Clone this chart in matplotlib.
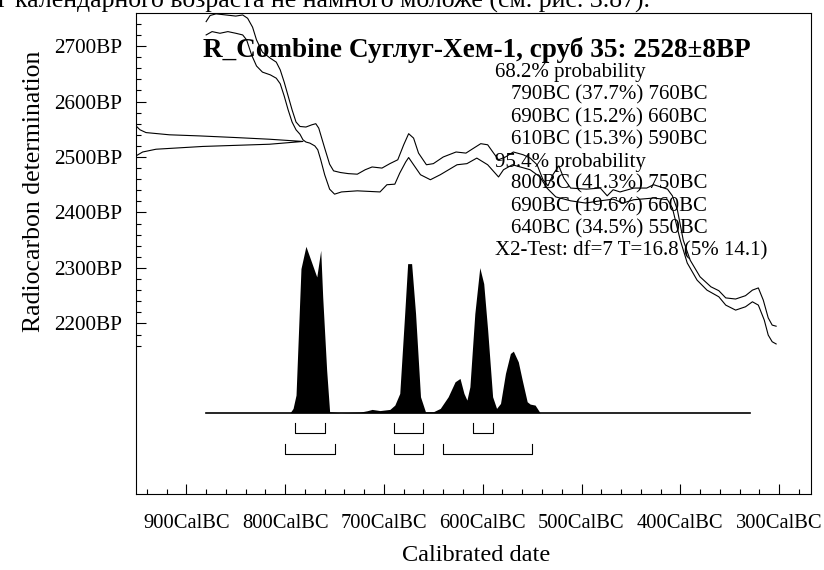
import matplotlib
matplotlib.use("Agg")
import matplotlib.pyplot as plt
from matplotlib.ticker import FixedLocator, FixedFormatter

plt.rcParams['font.family'] = ['Liberation Serif', 'DejaVu Serif']

# calibration curve envelope (cal BC, BP)
upper_bc = [880, 876, 870, 860, 850, 843, 838, 833, 829, 823, 815, 809, 805, 801, 797, 793,
            789, 785, 779, 773, 769, 766, 763, 760, 755, 751, 744, 736, 727, 719, 712, 702,
            694, 686, 680, 675, 670, 665, 657, 650, 640, 627, 617, 610, 602, 595, 589, 584,
            577, 569, 559, 552, 545, 539, 534, 529, 523, 518, 511, 495, 481, 474, 468, 461,
            447, 434, 427, 420, 413, 408, 403, 397, 390, 380, 369, 361, 354, 344, 334, 327,
            321, 316, 311, 307, 303]
upper_bp = [2744, 2755, 2758, 2756, 2754, 2756, 2750, 2734, 2711, 2689, 2678, 2671, 2657, 2635, 2610, 2585,
            2563, 2555, 2554, 2558, 2560, 2552, 2534, 2516, 2487, 2475, 2472, 2470, 2469, 2477, 2482, 2480,
            2488, 2495, 2522, 2542, 2534, 2507, 2486, 2488, 2500, 2509, 2507, 2515, 2524, 2522, 2507, 2495,
            2500, 2509, 2504, 2498, 2486, 2459, 2448, 2468, 2484, 2462, 2444, 2442, 2444, 2430, 2441, 2437,
            2444, 2444, 2450, 2446, 2442, 2430, 2405, 2350, 2314, 2284, 2266, 2259, 2246, 2244, 2250, 2260,
            2264, 2242, 2210, 2197, 2195]

lower_bc = [880, 874, 866, 858, 850, 843, 839, 834, 829, 823, 815, 809, 805, 801, 797, 793,
            789, 785, 782, 779, 775, 770, 767, 764, 760, 755, 750, 743, 727, 704, 697, 689,
            684, 678, 675, 670, 663, 653, 643, 626, 616, 606, 595, 584, 579, 570, 562, 552,
            542, 535, 526, 511, 496, 481, 468, 458, 447, 427, 413, 408, 400, 393, 383, 373,
            361, 354, 344, 334, 327, 321, 315, 311, 307, 303]
lower_bp = [2720, 2726, 2723, 2726, 2723, 2720, 2711, 2684, 2664, 2653, 2648, 2642, 2632, 2610, 2585, 2563,
            2549, 2541, 2531, 2527, 2525, 2520, 2513, 2495, 2468, 2442, 2433, 2437, 2439, 2437, 2450, 2451,
            2471, 2491, 2499, 2486, 2468, 2459, 2468, 2486, 2488, 2498, 2486, 2464, 2477, 2486, 2482, 2477,
            2464, 2444, 2428, 2421, 2417, 2421, 2424, 2417, 2423, 2426, 2423, 2408, 2350, 2309, 2278, 2260,
            2248, 2233, 2224, 2230, 2239, 2233, 2206, 2179, 2167, 2163]

# radiocarbon measurement 2528+-8 BP, relative height
gauss_bp = [2556, 2549, 2544, 2540, 2538, 2535, 2532, 2528, 2523, 2521, 2519, 2514, 2509, 2502]
gauss_h = [0.0, 0.024, 0.06, 0.2, 0.38, 0.6, 0.8, 1.0, 0.8, 0.6, 0.4, 0.12, 0.04, 0.0]

# posterior distribution (cal BC, relative probability)
dist_bc = [880, 795, 792, 789, 784, 779, 768, 764, 762, 758, 755, 744, 724, 717, 712, 704,
           694, 689, 684, 679, 676, 672, 668, 663, 658, 650, 643, 635, 628, 623, 619, 616,
           613, 608, 603, 599, 595, 590, 586, 582, 577, 572, 569, 564, 560, 555, 552, 547,
           542, 329]
dist_p = [0, 0, 0.026, 0.106, 0.866, 1.0, 0.816, 0.976, 0.696, 0.256, 0.006, 0, 0.004, 0.012, 0.02, 0.013,
          0.02, 0.046, 0.116, 0.596, 0.896, 0.896, 0.596, 0.096, 0.006, 0.006, 0.026, 0.096, 0.186, 0.206, 0.116, 0.076,
          0.156, 0.596, 0.872, 0.776, 0.496, 0.096, 0.026, 0.056, 0.236, 0.356, 0.37, 0.306, 0.196, 0.066, 0.052, 0.046,
          0, 0]

# ranges
ranges_68 = [(790, 760), (690, 660), (610, 590)]
ranges_95 = [(800, 750), (690, 660), (640, 550)]

title = "R_Combine Суглуг-Хем-1, сруб 35: 2528±8BP"
info_lines = [
    ("68.2% probability", 0),
    ("790BC (37.7%) 760BC", 1),
    ("690BC (15.2%) 660BC", 1),
    ("610BC (15.3%) 590BC", 1),
    ("95.4% probability", 0),
    ("800BC (41.3%) 750BC", 1),
    ("690BC (19.6%) 660BC", 1),
    ("640BC (34.5%) 550BC", 1),
    ("X2-Test: df=7 T=16.8 (5% 14.1)", 0),
]

x_major = [900, 800, 700, 600, 500, 400, 300]
y_major = [2200, 2300, 2400, 2500, 2600, 2700]

fig = plt.figure(figsize=(8.24, 5.7), dpi=100)
ax = fig.add_axes([0.16505, 0.13281, 0.81881, 0.84386])
xmin, xmax = 951, 268
ax.set_xlim(xmin, xmax)
ax.set_ylim(1892, 2759)

ax.plot(upper_bc, upper_bp, color='black', lw=0.8)
ax.plot(lower_bc, lower_bp, color='black', lw=0.8)

# gaussian drawn from the left axis
span = 169
ax.plot([xmin - span * h for h in gauss_h], gauss_bp, color='black', lw=0.8)

# distribution
base, height = 2039, 300
ax.fill_between(dist_bc, [base + height * p for p in dist_p], base, color='black', lw=0)
ax.plot([880, 329], [base, base], color='black', lw=1.2)

# range brackets
for rng, top, bot in [(ranges_68, 2021, 2003), (ranges_95, 1983, 1965)]:
    for a, b in rng:
        ax.plot([a, a, b, b], [top, bot, bot, top], color='black', lw=0.8)

# ticks
ax.xaxis.set_major_locator(FixedLocator(x_major))
ax.xaxis.set_major_formatter(FixedFormatter([f"{v}CalBC" for v in x_major]))
ax.xaxis.set_minor_locator(FixedLocator(list(range(280, 950, 20))))
ax.yaxis.set_major_locator(FixedLocator(y_major))
ax.yaxis.set_major_formatter(FixedFormatter([f"{v}BP" for v in y_major]))
ax.yaxis.set_minor_locator(FixedLocator(list(range(2160, 2760, 20))))
ax.tick_params(which='both', direction='in', width=0.8)
ax.tick_params(axis='x', which='both', top=False, pad=14, labelsize=14.8)
ax.tick_params(axis='y', which='both', right=False, pad=10, labelsize=15.3)
ax.tick_params(which='major', length=7.5)
ax.tick_params(which='minor', length=3.5)
for s in ax.spines.values():
    s.set_linewidth(0.8)

fig.text(0.041, 0.665, "Radiocarbon determination", rotation=90, ha='center', va='center', fontsize=18.5)
fig.text(0.578, 0.026, "Calibrated date", ha='center', va='center', fontsize=17.5)

fig.text(203 / 824, 1 - 50 / 570, title, ha='left', va='center', fontsize=19.6, fontweight='bold')
for i, (line, indent) in enumerate(info_lines):
    fig.text((495 + 16 * indent) / 824, 1 - (73 + 22.25 * i) / 570, line, ha='left', va='center', fontsize=15)

# clipped caption line from the page above
fig.text(-0.002, 1 - 8 / 570, "г календарного возраста не намного моложе (см. рис. 3.87).",
         ha='left', va='baseline', fontsize=18.5)

fig.savefig("out.png", dpi=100)
